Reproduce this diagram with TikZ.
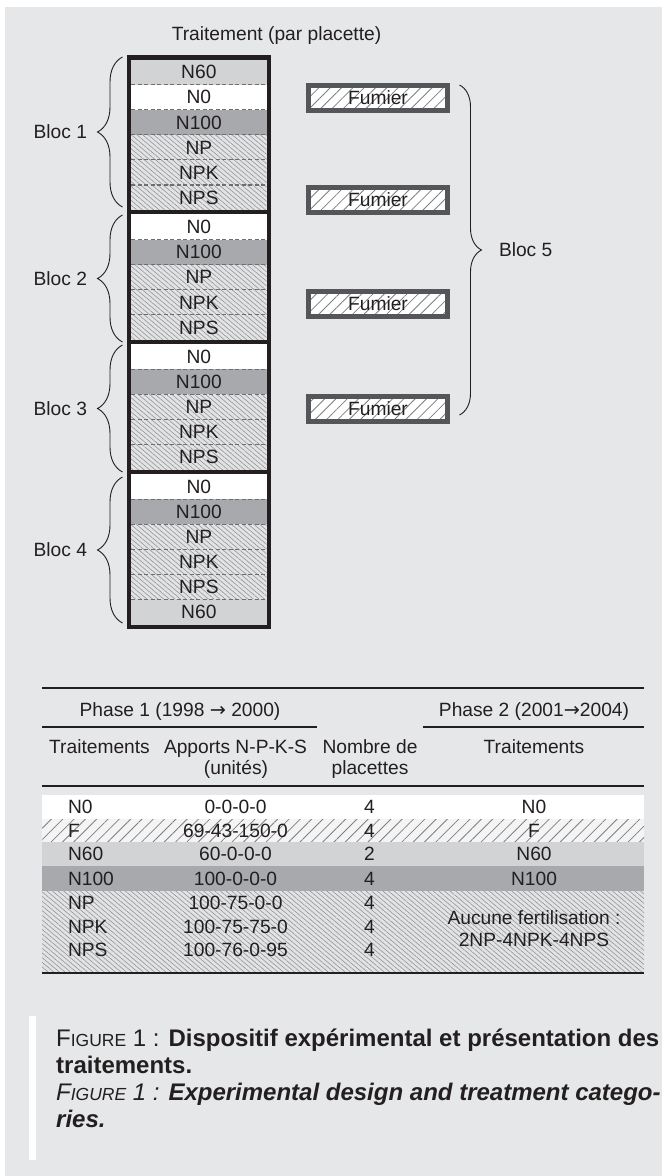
\documentclass[tikz,border=0pt]{standalone}
\usepackage{fontspec}
\setmainfont{Liberation Sans}
\newfontfamily\arrowfont{DejaVu Sans}
\usetikzlibrary{decorations.pathreplacing,patterns.meta}
\definecolor{pagebg}{HTML}{E6E7E8}
\definecolor{ink}{HTML}{231F20}
\definecolor{gLight}{HTML}{D1D3D4}
\definecolor{gDark}{HTML}{A7A9AC}
\definecolor{hatchbg}{HTML}{E2E3E4}
\definecolor{hatchln}{HTML}{8E9093}
\definecolor{fumln}{HTML}{7D7F82}
\definecolor{dashc}{HTML}{6D6E71}
\definecolor{fumframe}{HTML}{555659}
\definecolor{fbg}{HTML}{F4F4F5}
\begin{document}
\begin{tikzpicture}[x=1pt,y=-1pt,
  font=\fontsize{19.2}{23}\selectfont, text=ink,
  lbl/.style={inner sep=0pt, outer sep=0pt, text height=13.75pt, text depth=0pt},
  cell/.style={lbl, minimum width=135.3pt, minimum height=25.07pt},
  cN60/.style={cell, fill=gLight},
  cN0/.style={cell, fill=white},
  cN100/.style={cell, fill=gDark},
  cNP/.style={cell, preaction={fill=hatchbg}, pattern={Lines[angle=-40,distance=3.6pt,line width=0.55pt]}, pattern color=hatchln},
  dashsep/.style={draw=dashc, line width=1.3pt, dash pattern=on 4pt off 2.5pt},
  frame/.style={draw=ink, line width=4.5pt},
  fum/.style={lbl, draw=fumframe, line width=5pt, minimum width=139pt, minimum height=25pt, preaction={fill=white}, pattern={Lines[angle=45,distance=8pt,line width=0.8pt]}, pattern color=fumln},
  bracel/.style={decorate, decoration={brace, amplitude=25pt}, draw=ink, line width=0.9pt},
  bracer/.style={decorate, decoration={brace, amplitude=22pt}, draw=ink, line width=0.9pt},
  trule/.style={draw=ink, line width=1.1pt},
  capline/.style={inner sep=0pt, anchor=base west, font=\fontsize{24}{27}\selectfont}
]
\useasboundingbox (0,0) rectangle (662,1176);
\fill[white] (0,0) rectangle (662,1176);
\fill[pagebg] (5,6.7) rectangle (662,1176);

% title
\node[lbl] (title) at (276.5,33.5) {Traitement (par placette)};

% column cells
\foreach \nm/\sty/\lab/\yc in {
  a1/cN60/N60/72.04, a2/cN0/N0/97.11, a3/cN100/N100/122.18, a4/cNP/NP/147.25, a5/cNP/NPK/172.32, a6/cNP/NPS/197.39,
  b1/cN0/N0/226.96, b2/cN100/N100/252.03, b3/cNP/NP/277.10, b4/cNP/NPK/302.17, b5/cNP/NPS/327.24,
  c1/cN0/N0/356.81, c2/cN100/N100/381.88, c3/cNP/NP/406.95, c4/cNP/NPK/432.02, c5/cNP/NPS/457.09,
  d1/cN0/N0/486.66, d2/cN100/N100/511.73, d3/cNP/NP/536.80, d4/cNP/NPK/561.87, d5/cNP/NPS/586.94, d6/cN60/N60/612.01}
  \node[\sty] (\nm) at (198.85,\yc) {\lab};

\foreach \n in {a1,a2,a3,a4,a5,b1,b2,b3,b4,c1,c2,c3,c4,d1,d2,d3,d4,d5}
  \draw[dashsep] (\n.south west) -- (\n.south east);

\foreach \n in {a6,b5,c5}
  \draw[frame] ([xshift=-2.25pt,yshift=-2.25pt]\n.south west) -- ([xshift=2.25pt,yshift=-2.25pt]\n.south east);
\draw[frame] ([xshift=-2.25pt,yshift=2.25pt]a1.north west) rectangle ([xshift=2.25pt,yshift=-2.25pt]d6.south east);

% bloc braces
\draw[bracel] (122.5,207) -- (122.5,57);
\draw[bracel] (122.5,342) -- (122.5,215);
\draw[bracel] (122.5,472) -- (122.5,345);
\draw[bracel] (122.5,623) -- (122.5,477);
\node[lbl, anchor=east] (bl1) at (87,132) {Bloc 1};
\node[lbl, anchor=east] (bl2) at (87,278.5) {Bloc 2};
\node[lbl, anchor=east] (bl3) at (87,408.5) {Bloc 3};
\node[lbl, anchor=east] (bl4) at (87,550) {Bloc 4};

% fumier
\node[fum] (f1) at (378,97.5) {Fumier};
\node[fum] (f2) at (378,200) {Fumier};
\node[fum] (f3) at (378,303.5) {Fumier};
\node[fum] (f4) at (378,408.5) {Fumier};
\draw[bracer] (459.5,85) -- (459.5,415);
\node[lbl, anchor=west] (bl5) at (499,250) {Bloc 5};

% table
\coordinate (r1l) at (42,688);  \coordinate (r1r) at (644,688);
\coordinate (r2l) at (42,727);  \coordinate (r2r) at (317,727);
\coordinate (r3l) at (423,727); \coordinate (r3r) at (644,727);
\coordinate (r4l) at (42,786);  \coordinate (r4r) at (644,786);
\coordinate (r5l) at (42,973);  \coordinate (r5r) at (644,973);

\fill[white] (42,795) rectangle (644,819);
\fill[fbg] (42,819) rectangle (644,842);
\fill[pattern={Lines[angle=45,distance=8pt,line width=0.8pt]}, pattern color=fumln] (42,819) rectangle (644,842);
\fill[gLight] (42,842) rectangle (644,866);
\fill[gDark] (42,866) rectangle (644,891);
\fill[hatchbg] (42,891) rectangle (644,973);
\fill[pattern={Lines[angle=-40,distance=3.6pt,line width=0.55pt]}, pattern color=hatchln] (42,891) rectangle (644,973);

\draw[trule] (r1l) -- (r1r);
\draw[trule] (r2l) -- (r2r);
\draw[trule] (r3l) -- (r3r);
\draw[trule] (r4l) -- (r4r);
\draw[trule] (r5l) -- (r5r);

\node[lbl] (ph1) at (180,710) {Phase 1 (1998 {\arrowfont →} 2000)};
\node[lbl] (ph2) at (534,710) {Phase 2 (2001{\arrowfont →}2004)};
\node[lbl] (h1) at (99.5,747) {Traitements};
\node[lbl] (h2a) at (235.5,747) {Apports N-P-K-S};
\node[lbl] (h2b) at (236,768) {(unités)};
\node[lbl] (h3a) at (370,747) {Nombre de};
\node[lbl] (h3b) at (370,768) {placettes};
\node[lbl] (h4) at (534,747) {Traitements};

\foreach \nm/\t/\a/\k/\y in {N0/N0/0-0-0-0/4/807, F/F/69-43-150-0/4/831, N60/N60/60-0-0-0/2/854, N100/N100/100-0-0-0/4/878.5, NP/NP/100-75-0-0/4/903, NPK/NPK/100-75-75-0/4/927, NPS/NPS/100-76-0-95/4/950}{
  \node[lbl, anchor=west] (t\nm) at (68,\y) {\t};
  \node[lbl] (a\nm) at (235.5,\y) {\a};
  \node[lbl] (n\nm) at (369.5,\y) {\k};
}
\node[lbl] (pN0) at (534,807) {N0};
\node[lbl] (pF) at (534,831) {F};
\node[lbl] (pN60) at (534,854) {N60};
\node[lbl] (pN100) at (534,878.5) {N100};
\node[lbl] (pA) at (534,918) {Aucune fertilisation :};
\node[lbl] (pB) at (534,940) {2NP-4NPK-4NPS};

% caption
\fill[white] (28.7,1016) rectangle (36,1160);
\node[capline] (cap1) at (56,1046) {F{\fontsize{17.5}{27}\selectfont IGURE} 1 : \textbf{Dispositif expérimental et présentation des}};
\node[capline] (cap2) at (56,1073) {\textbf{traitements.}};
\node[capline] (cap3) at (56,1100) {\itshape F{\fontsize{17.5}{27}\selectfont IGURE} 1 : \textbf{Experimental design and treatment catego-}};
\node[capline] (cap4) at (56,1127) {\itshape\bfseries ries.};
\end{tikzpicture}
\end{document}
